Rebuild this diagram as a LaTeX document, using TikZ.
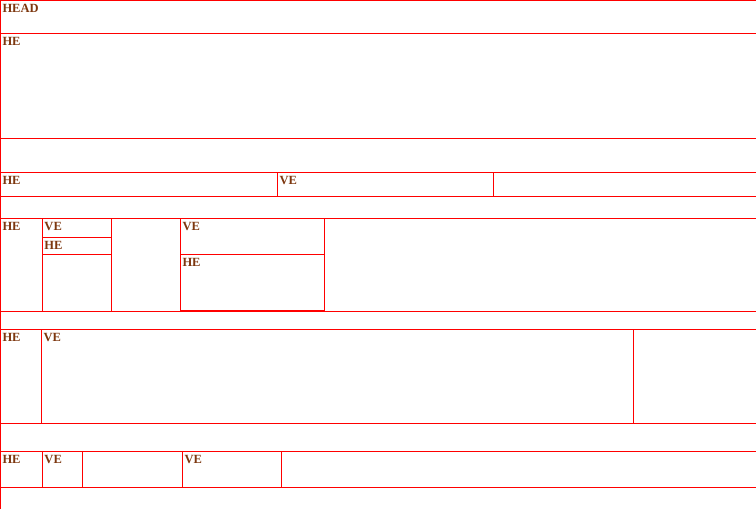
\documentclass[tikz,border=0pt]{standalone}
\usepackage{fontspec}
\setmainfont{Liberation Serif}
\definecolor{lbltext}{RGB}{125,55,15}
\begin{document}
\begin{tikzpicture}[x=1pt,y=-1pt,
  line width=1pt,
  rule/.style={draw=red},
  lbl/.style={anchor=north west,inner sep=0pt,yshift=-1.5pt,font=\bfseries\fontsize{12.5}{13}\selectfont,text=lbltext}]
\useasboundingbox (0,0) rectangle (756,509);

% horizontal rules
\foreach \y in {0.5,33,138,172,196,218,311,329,423,451,487}
  \draw[rule] (0,\y) -- (756,\y);
\draw[rule] (0.5,0) -- (0.5,509);

% row with three cells
\draw[rule] (277,172) -- (277,196);
\draw[rule] (493,172) -- (493,196);

% nested row
\draw[rule] (42,218) -- (42,311);
\draw[rule] (111,218) -- (111,311);
\draw[rule] (42,237) -- (111,237);
\draw[rule] (42,254) -- (111,254);
\draw[rule] (180,218) rectangle (324,310);
\draw[rule] (180,254) -- (324,254);
\draw[rule] (324,218) -- (324,311);

% wide row
\draw[rule] (41,329) -- (41,423);
\draw[rule] (633,329) -- (633,423);

% last row
\foreach \x in {42,82,182,281}
  \draw[rule] (\x,451) -- (\x,487);

% labels
\node[lbl] (H) at (2,2) {HEAD};
\node[lbl] (H1) at (2,35) {HE};
\node[lbl] (H2) at (2,174) {HE};
\node[lbl] (V2) at (279,174) {VE};
\node[lbl] (H3) at (2,220) {HE};
\node[lbl] (V3) at (44,220) {VE};
\node[lbl] (H3a) at (44,239) {HE};
\node[lbl] (V3a) at (182,220) {VE};
\node[lbl] (H3b) at (182,256) {HE};
\node[lbl] (H4) at (2,331) {HE};
\node[lbl] (V4) at (43,331) {VE};
\node[lbl] (H5) at (2,453) {HE};
\node[lbl] (V5) at (44,453) {VE};
\node[lbl] (V5a) at (184,453) {VE};
\end{tikzpicture}
\end{document}
